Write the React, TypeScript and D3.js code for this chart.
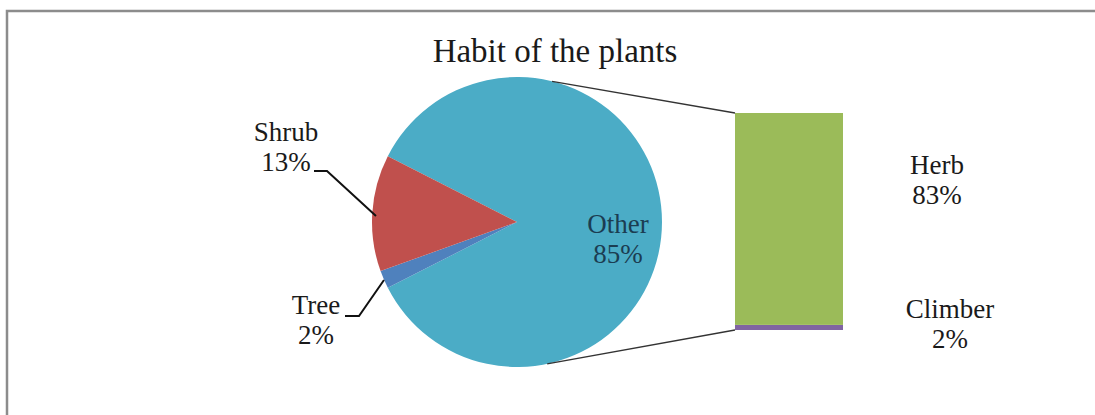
import React, { useEffect, useRef } from "react";
import * as d3 from "d3";

// ---- data ----
const pieCategories = ["Other", "Tree", "Shrub"];
const pieValues = [85, 2, 13];
const barCategories = ["Herb", "Climber"];
const barValues = [83, 2];
const title = "Habit of the plants";

const colors: Record<string, string> = {
  Other: "#4bacc6",
  Tree: "#4f81bd",
  Shrub: "#c0504d",
  Herb: "#9bbb59",
  Climber: "#8064a2",
};

const W = 1095;
const H = 415;

export default function App() {
  const ref = useRef<SVGSVGElement | null>(null);

  useEffect(() => {
    const svg = d3.select(ref.current);
    svg.selectAll("*").remove();
    const font = "'Liberation Serif', 'Times New Roman', serif";

    // frame
    svg.append("rect").attr("x", 7).attr("y", 11).attr("width", W + 20).attr("height", H + 20)
      .attr("fill", "white").attr("stroke", "#8c8c8c").attr("stroke-width", 2.5);

    // title
    svg.append("text").attr("x", 555).attr("y", 62).attr("text-anchor", "middle")
      .attr("font-family", font).attr("font-size", 33).attr("fill", "#1a1a1a").text(title);

    // pie
    const cx = 517, cy = 222, r = 145;
    const otherShare = pieValues[0] / d3.sum(pieValues);
    const start = Math.PI / 2 - otherShare * Math.PI;
    const pie = d3.pie<number>().sort(null).startAngle(start).endAngle(start + 2 * Math.PI);
    const arcs = pie(pieValues);
    const arc = d3.arc<d3.PieArcDatum<number>>().innerRadius(0).outerRadius(r);
    const g = svg.append("g").attr("transform", `translate(${cx},${cy})`);
    g.selectAll("path").data(arcs).enter().append("path")
      .attr("d", arc as any)
      .attr("fill", (_d, i) => colors[pieCategories[i]]);

    // bar
    const barX = 735, barW = 108;
    const y = d3.scaleLinear().domain([0, d3.sum(barValues)]).range([330, 113]);
    const stack = [] as { name: string; y0: number; y1: number }[];
    let acc = 0;
    // Climber at bottom, Herb above
    const order = [1, 0];
    order.forEach((i) => {
      stack.push({ name: barCategories[i], y0: acc, y1: acc + barValues[i] });
      acc += barValues[i];
    });
    svg.selectAll("rect.bar").data(stack).enter().append("rect").attr("class", "bar")
      .attr("x", barX).attr("width", barW)
      .attr("y", (d) => y(d.y1)).attr("height", (d) => y(d.y0) - y(d.y1))
      .attr("fill", (d) => colors[d.name]);

    // connector lines
    const aTop = (76 * Math.PI) / 180;
    const aBot = (-78 * Math.PI) / 180;
    svg.append("line").attr("x1", cx + r * Math.cos(aTop)).attr("y1", cy - r * Math.sin(aTop))
      .attr("x2", barX).attr("y2", y(d3.sum(barValues))).attr("stroke", "#333").attr("stroke-width", 1.3);
    svg.append("line").attr("x1", cx + r * Math.cos(aBot)).attr("y1", cy - r * Math.sin(aBot))
      .attr("x2", barX).attr("y2", y(0)).attr("stroke", "#333").attr("stroke-width", 1.3);

    // leader lines
    const leader = (pts: [number, number][]) =>
      svg.append("path").attr("d", d3.line()(pts) as string).attr("fill", "none")
        .attr("stroke", "#111").attr("stroke-width", 2);
    leader([[314, 171], [327, 171], [376, 216]]);
    leader([[345, 316], [359, 316], [384, 280]]);

    // labels
    const pct = (v: number) => `${v}%`;
    const label = (x: number, yb: number, lines: string[], fill = "#1a1a1a") => {
      lines.forEach((t, k) => {
        svg.append("text").attr("x", x).attr("y", yb + k * 30).attr("text-anchor", "middle")
          .attr("font-family", font).attr("font-size", 27).attr("fill", fill).text(t);
      });
    };
    label(286, 141, [pieCategories[2], pct(pieValues[2])]);
    label(316, 314, [pieCategories[1], pct(pieValues[1])]);
    label(618, 233, [pieCategories[0], pct(pieValues[0])], "#1b3d52");
    label(937, 174, [barCategories[0], pct(barValues[0])]);
    label(950, 318, [barCategories[1], pct(barValues[1])]);
  }, []);

  return (
    <svg ref={ref} width={W} height={H}
      style={{ position: "absolute", left: 0, top: 0, background: "white" }} />
  );
}
